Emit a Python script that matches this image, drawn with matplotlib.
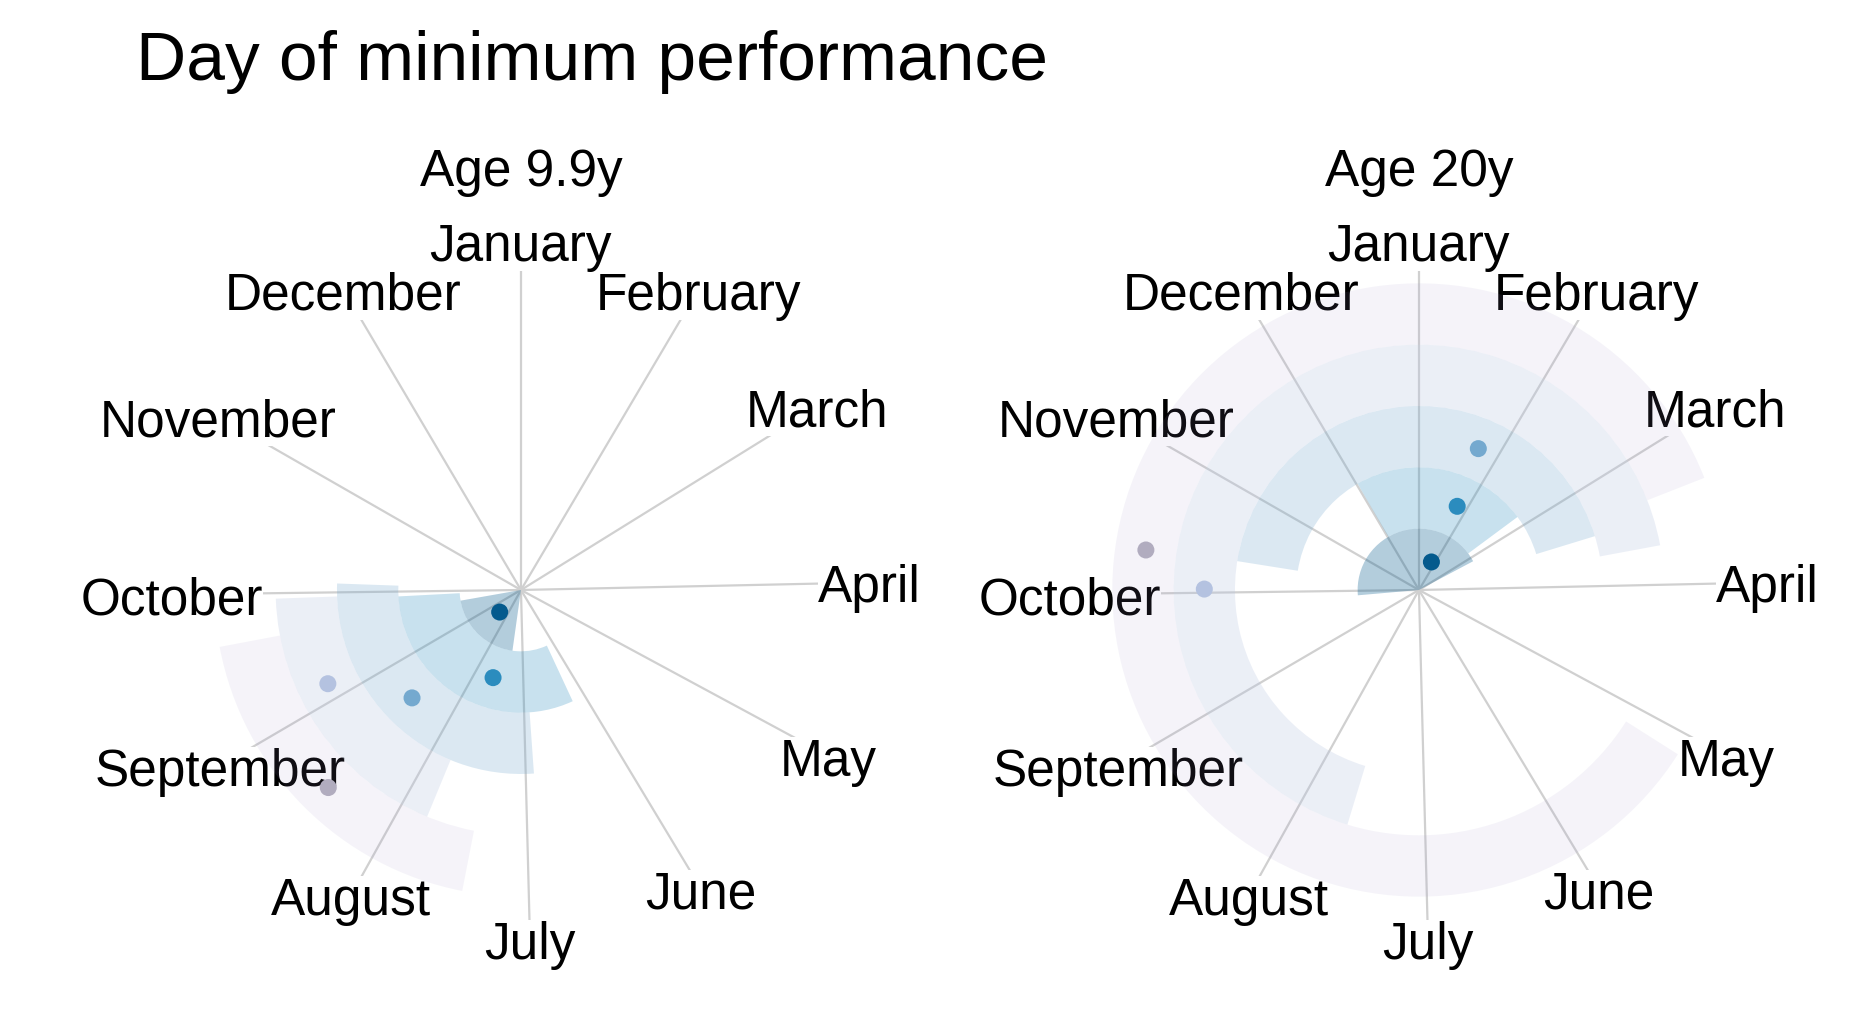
import numpy as np
import matplotlib.pyplot as plt

plt.rcParams['font.family'] = ['Liberation Sans', 'DejaVu Sans']

months = ["January", "February", "March", "April", "May", "June",
          "July", "August", "September", "October", "November", "December"]
month_start_day = [0, 31, 59, 90, 120, 151, 181, 212, 243, 273, 304, 334]

panel_titles = ["Age 9.9y", "Age 20y"]

# one entry per ring, from the centre outwards (day of year)
young_lo = [190.6, 157.2, 178.4, 205.3, 193.7]
young_hi = [263.6, 270.7, 275.8, 271.7, 262.9]
young_day = [227.1, 200.4, 228.4, 247.5, 227.4]

adult_lo = [268.7, 334.6, 282.9, 199.7, 124.1]
adult_hi = [62.9, 54.2, 74.0, 80.6, 69.5]
adult_day = [24.3, 24.9, 23.1, 274.0, 282.2]

point_colors = ["#045a8d", "#2b8cbe", "#74a9cf", "#b4c2e0", "#b1acbf"]
ring_colors = ["#045a8d", "#2b8cbe", "#74a9cf", "#b4c2e0", "#9e90c8"]
ring_alpha = [0.3, 0.26, 0.26, 0.26, 0.1]

DAYS = 365.0


def to_theta(day):
    return np.asarray(day, dtype=float) / DAYS * 2 * np.pi


def draw_panel(ax, title, lo, hi, day):
    ax.set_theta_zero_location("N")
    ax.set_theta_direction(-1)
    ax.set_ylim(0, 6)
    ax.set_axis_off()

    # month spokes and labels
    for name, d in zip(months, month_start_day):
        th = to_theta(d)
        ax.plot([th, th], [0, 5.6], color="#d0d0d0", lw=1.6, zorder=1,
                solid_capstyle="butt")
        ax.text(th, 5.69, name, ha="center", va="center_baseline",
                fontsize=37, zorder=2,
                bbox=dict(facecolor="white", edgecolor="none", pad=0))

    # interval rings
    rings = np.arange(len(lo))
    widths = (np.asarray(hi) - np.asarray(lo)) % DAYS
    for i in rings:
        ax.bar(to_theta(lo[i]), 1.0, width=to_theta(widths[i]), bottom=i,
               align="edge", color=ring_colors[i], alpha=ring_alpha[i],
               linewidth=0, zorder=3)

    ax.scatter(to_theta(day), rings + 0.5, s=150, c=point_colors,
               linewidths=0, zorder=4)

    ax.text(0.5, 1.068, title, transform=ax.transAxes, ha="center",
            va="center", fontsize=37)


fig = plt.figure(figsize=(18.5, 10.2), dpi=100)
ax1 = fig.add_axes([0.0827, 0.0598, 0.3978, 0.7216], projection="polar")
ax2 = fig.add_axes([0.5681, 0.0598, 0.3978, 0.7216], projection="polar")

draw_panel(ax1, panel_titles[0], young_lo, young_hi, young_day)
draw_panel(ax2, panel_titles[1], adult_lo, adult_hi, adult_day)

fig.text(136 / 1850, 1 - 80 / 1020, "Day of minimum performance",
         fontsize=50, va="baseline", ha="left")

fig.savefig("out.png", dpi=100, facecolor="white")
